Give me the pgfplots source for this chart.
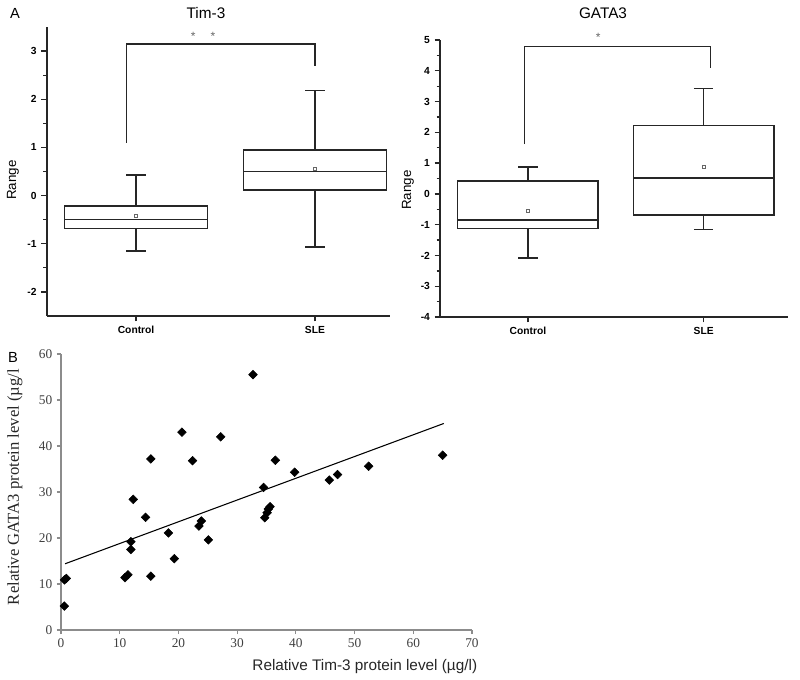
\documentclass[border=0pt]{standalone}
\usepackage{fontspec}
\setmainfont{Liberation Sans}
\newfontfamily\serif{Liberation Serif}
\usepackage{pgfplots}
\pgfplotsset{compat=1.18}
\usepgfplotslibrary{statistics}
\definecolor{axgray}{HTML}{8C8C8C}
\definecolor{lblgray}{HTML}{404040}
\begin{document}
\begin{tikzpicture}[x=1pt,y=1pt]
\useasboundingbox (0,0) rectangle (600,509.25);
\pgfplotsset{
  boxax/.style={
    scale only axis, clip=false,
    boxplot/draw direction=y,
    boxplot/every box/.style={draw=black!85, line width=1.1pt},
    boxplot/every median/.style={draw=black!85, line width=1.1pt},
    boxplot/every whisker/.style={draw=black!85, line width=1.1pt},
    /pgf/number format/assume math mode=true,
    axis x line*=bottom, axis y line*=left,
    axis line style={line width=1.4pt, black!85, -},
    tick align=outside,
    major tick length=4pt, minor tick length=2.5pt,
    every tick/.style={line width=1pt, black!85},
    tick label style={font=\fontsize{7.7}{9}\selectfont\bfseries, black},
    xtick={1,2}, xticklabels={Control,SLE},
    minor y tick num=1,
    ylabel={Range},
    ylabel style={font=\fontsize{9.5}{11}\selectfont},
  },
  bx/.style={black!85, line width=1.1pt, solid},
}
% ---------------- Tim-3 ----------------
\begin{axis}[boxax,
  at={(35pt,272.25pt)}, anchor=south west,
  width=257.5pt, height=216.75pt,
  xmin=0.5, xmax=2.42, ymin=-2.5, ymax=3.5,
  ytick={-2,-1,0,1,2,3},
  every axis y label/.style={at={(axis description cs:-0.098,0.47)}, rotate=90, anchor=center},
]
\addplot[bx, boxplot prepared={draw position=1, lower whisker=-1.15, lower quartile=-0.68, median=-0.5, upper quartile=-0.22, upper whisker=0.43, box extend=0.8, whisker extend=0.11}] coordinates {};
\addplot[bx, boxplot prepared={draw position=2, lower whisker=-1.07, lower quartile=0.12, median=0.5, upper quartile=0.95, upper whisker=2.18, box extend=0.8, whisker extend=0.11}] coordinates {};
\addplot[only marks, mark=square, mark size=1.2pt, gray!80!black, line width=0.6pt] coordinates {(1,-0.42) (2,0.55)};
\addplot[black!85, line width=1pt] coordinates {(0.945,1.1) (0.945,3.15) (2,3.15) (2,2.69)};
\node[gray!80!black, font=\fontsize{9}{10}\selectfont] at (axis cs:1.32,3.3) {*};
\node[gray!80!black, font=\fontsize{9}{10}\selectfont] at (axis cs:1.43,3.3) {*};
\end{axis}
% ---------------- GATA3 ----------------
\begin{axis}[boxax,
  at={(330pt,271.5pt)}, anchor=south west,
  width=261pt, height=207.75pt,
  xmin=0.5, xmax=2.48, ymin=-4, ymax=5,
  ytick={-4,-3,-2,-1,0,1,2,3,4,5},
  every axis y label/.style={at={(axis description cs:-0.092,0.458)}, rotate=90, anchor=center},
]
\addplot[bx, boxplot prepared={draw position=1, lower whisker=-2.08, lower quartile=-1.12, median=-0.85, upper quartile=0.42, upper whisker=0.88, box extend=0.8, whisker extend=0.11}] coordinates {};
\addplot[bx, boxplot prepared={draw position=2, lower whisker=-1.15, lower quartile=-0.68, median=0.52, upper quartile=2.22, upper whisker=3.42, box extend=0.8, whisker extend=0.11}] coordinates {};
\addplot[only marks, mark=square, mark size=1.2pt, gray!80!black, line width=0.6pt] coordinates {(1,-0.55) (2,0.87)};
\addplot[black!85, line width=1pt] coordinates {(0.98,1.62) (0.98,4.8) (2.04,4.8) (2.04,4.09)};
\node[gray!80!black, font=\fontsize{9}{10}\selectfont] at (axis cs:1.4,5.08) {*};
\end{axis}
% ---------------- Scatter ----------------
\begin{axis}[
  scale only axis, clip=false,
  at={(45.75pt,36.75pt)}, anchor=south west,
  width=308.25pt, height=207pt,
  xmin=0, xmax=70, ymin=0, ymax=60,
  xtick={0,10,...,70}, ytick={0,10,...,60},
  /pgf/number format/assume math mode=true,
  axis x line*=bottom, axis y line*=left,
  axis line style={line width=0.8pt, axgray, -},
  tick align=outside, major tick length=3pt,
  every tick/.style={line width=0.8pt, axgray},
  tick label style={font=\serif\fontsize{10}{12}\selectfont, lblgray},
  xlabel={Relative Tim-3 protein level (\textmu g/l)},
  every axis x label/.style={at={(axis description cs:1.024,-0.134)}, anchor=east, font=\fontsize{11.5}{13}\selectfont, black!85},
  ylabel={Relative GATA3 protein level (\textmu g/l},
  every axis y label/.style={at={(axis description cs:-0.112,0.518)}, rotate=90, anchor=center, font=\serif\fontsize{12.5}{14}\selectfont, black!85},
]
\addplot[only marks, mark=square*, mark size=2.3pt, black, mark options={rotate=45}] coordinates {
(0.57,5.2) (0.6,10.9) (0.9,11.2) (10.9,11.4) (11.4,12.0) (15.3,11.7)
(11.9,19.2) (11.9,17.5) (12.3,28.4) (14.4,24.5) (15.3,37.2) (18.3,21.1)
(19.3,15.5) (20.6,43.0) (22.4,36.8) (23.5,22.6) (23.9,23.7) (25.1,19.6)
(27.2,42.0) (32.7,55.5) (34.5,31.0) (34.7,24.4) (35.1,25.5) (35.3,26.3)
(35.6,26.8) (36.5,36.9) (39.8,34.3) (45.7,32.6) (47.1,33.8) (52.4,35.6)
(65.0,38.0)};
\addplot[black, line width=0.8pt] coordinates {(0.7,14.4) (65.2,44.9)};
\end{axis}
% ---------------- titles and panel letters ----------------
\node[font=\fontsize{11.5}{13}\selectfont] at (154.5,499.5) {Tim-3};
\node[font=\fontsize{11.5}{13}\selectfont] at (452.25,499.5) {GATA3};
\node[font=\fontsize{11}{13}\selectfont] at (11.25,499.5) {A};
\node[font=\fontsize{11}{13}\selectfont] at (9.75,241.5) {B};
\end{tikzpicture}
\end{document}
